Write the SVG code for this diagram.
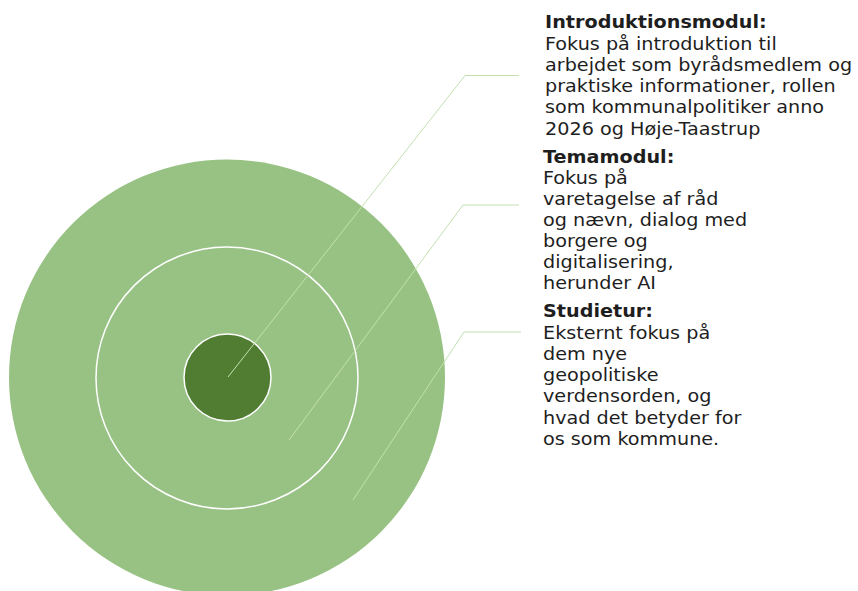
<svg xmlns="http://www.w3.org/2000/svg" width="858" height="591" viewBox="0 0 858 591">
<style>
.t{font-family:"DejaVu Sans",Verdana,sans-serif;font-size:17px;fill:#1e1e1e}
.b{font-weight:bold}
.ln{fill:none;stroke:#c3e0b0;stroke-width:1}
</style>
<rect width="858" height="591" fill="#ffffff"/>
<g id="ring-outer"><circle cx="227" cy="377.5" r="218" fill="#98c284"/></g>
<g id="ring-middle"><circle cx="227" cy="378" r="131" fill="#98c284" stroke="#ffffff" stroke-width="1.5"/></g>
<g id="ring-inner"><circle cx="227.5" cy="377.5" r="43.5" fill="#507d32" stroke="#ffffff" stroke-width="1.5"/></g>
<g id="connectors">
<polyline class="ln" points="228,377 465,75.5 519,75.5"/>
<polyline class="ln" points="289,440 463,205 519,205"/>
<polyline class="ln" points="353,500 464,332 521,332"/>
</g>
<g id="label-intro" transform="translate(545,0) scale(1.13,1)">
<text class="t b" x="0" y="28">Introduktionsmodul:</text>
<text class="t" x="0" y="50">Fokus på introduktion til</text>
<text class="t" x="0" y="71">arbejdet som byrådsmedlem og</text>
<text class="t" x="0" y="92">praktiske informationer, rollen</text>
<text class="t" x="0" y="113">som kommunalpolitiker anno</text>
<text class="t" x="0" y="135">2026 og Høje-Taastrup</text>
</g>
<g id="label-tema" transform="translate(543,0) scale(1.13,1)">
<text class="t b" x="0" y="163">Temamodul:</text>
<text class="t" x="0" y="184">Fokus på</text>
<text class="t" x="0" y="205">varetagelse af råd</text>
<text class="t" x="0" y="226">og nævn, dialog med</text>
<text class="t" x="0" y="247">borgere og</text>
<text class="t" x="0" y="268">digitalisering,</text>
<text class="t" x="0" y="289">herunder AI</text>
</g>
<g id="label-studietur" transform="translate(543,0) scale(1.13,1)">
<text class="t b" x="0" y="317">Studietur:</text>
<text class="t" x="0" y="339">Eksternt fokus på</text>
<text class="t" x="0" y="360">dem nye</text>
<text class="t" x="0" y="381">geopolitiske</text>
<text class="t" x="0" y="402">verdensorden, og</text>
<text class="t" x="0" y="424">hvad det betyder for</text>
<text class="t" x="0" y="445">os som kommune.</text>
</g>
</svg>
